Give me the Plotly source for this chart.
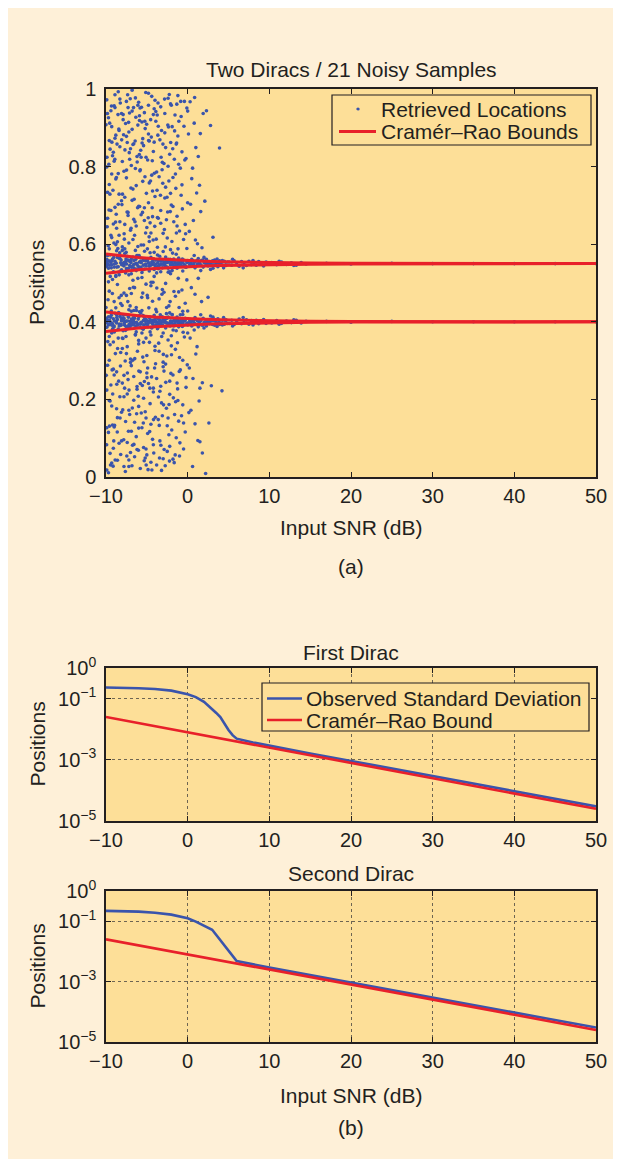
import plotly.graph_objects as go

# ---------------- DATA ----------------
snr_ticks = [-10, 0, 10, 20, 30, 40, 50]
snr_tick_text = ["\u221210", "0", "10", "20", "30", "40", "50"]
pos_ticks = [0, 0.2, 0.4, 0.6, 0.8, 1]
pos_tick_text = ["0", "0.2", "0.4", "0.6", "0.8", "1"]
log_ticks = [1e-5, 1e-3, 1e-1, 1]
log_tick_text = ["10<sup>\u22125</sup>", "10<sup>\u22123</sup>", "10<sup>\u22121</sup>", "10<sup>0</sup>"]

loc_first = 0.55
loc_second = 0.40

# Cramer-Rao bound (std)
crb_snr = [-10, -8, -6, -4, -2, 0, 2, 4, 6, 8, 10, 15, 20, 30, 40, 50]
crb_std = [0.025, 0.0199, 0.0158, 0.0125, 0.0099, 0.0079, 0.0063, 0.005, 0.004,
           0.0031, 0.0025, 0.0014, 0.0008, 0.00025, 0.00008, 0.000025]

# Observed std, first Dirac
std_snr_1 = [-10, -8, -6, -4, -2, 0, 1, 2, 2.5, 3, 3.5, 4, 4.5, 5, 5.5, 6, 8, 10, 15, 20, 30, 40, 50]
std_1 = [0.23, 0.226, 0.218, 0.205, 0.182, 0.138, 0.112, 0.078, 0.06, 0.045, 0.034, 0.025,
         0.015, 0.0094, 0.0064, 0.0049, 0.0037, 0.0029, 0.0016, 0.00092, 0.00029, 0.000092, 0.00003]
# Observed std, second Dirac
std_snr_2 = [-10, -8, -6, -4, -2, 0, 1, 3, 6, 10, 20, 30, 40, 50]
std_2 = [0.22, 0.216, 0.207, 0.19, 0.165, 0.125, 0.097, 0.052, 0.0048, 0.0029, 0.00092,
         0.00029, 0.000092, 0.00003]

# Retrieved locations: outliers spread over [0, 1]
cloud_pts = [
(-9.9,0.972),(-9.7,0.115),(-9.4,0.623),(-9.1,0.348),(-8.8,0.881),(-8.3,0.207),(-9.6,0.754),(-8.6,0.043),(-9.2,0.509),(-8.1,0.937),
(-9.8,0.288),(-9.0,0.814),(-8.4,0.462),(-9.5,0.061),(-8.9,0.695),(-8.2,0.321),(-9.3,0.903),(-8.7,0.176),(-10.0,0.437),(-9.1,0.652),
(-8.5,0.993),(-9.7,0.392),(-8.0,0.584),(-9.4,0.237),(-8.8,0.768),(-9.9,0.018),(-8.3,0.851),(-9.2,0.134),(-8.6,0.606),(-9.6,0.479),
(-8.9,0.952),(-9.0,0.263),(-8.1,0.712),(-9.5,0.845),(-8.4,0.087),(-9.8,0.667),(-8.7,0.418),(-9.3,0.183),(-8.2,0.531),(-9.7,0.926),
(-9.1,0.074),(-8.5,0.358),(-9.9,0.799),(-8.0,0.242),(-9.4,0.687),(-8.8,0.519),(-9.6,0.301),(-8.3,0.974),(-9.2,0.828),(-8.6,0.153),
(-9.0,0.452),(-9.8,0.571),(-8.4,0.729),(-9.3,0.036),(-8.9,0.873),(-8.1,0.409),(-9.5,0.196),(-8.7,0.641),(-10.0,0.908),(-9.1,0.278),
(-8.2,0.058),(-9.7,0.503),(-8.5,0.782),(-9.4,0.944),(-8.0,0.331),(-9.9,0.224),(-8.8,0.599),(-9.2,0.381),(-8.3,0.658),(-9.6,0.867),
(-8.6,0.496),(-9.0,0.129),(-8.9,0.985),(-9.5,0.341),(-8.4,0.893),(-9.8,0.734),(-8.1,0.167),(-9.3,0.617),(-8.7,0.271),(-9.1,0.837),
(-8.2,0.447),(-9.7,0.011),(-8.5,0.703),(-9.4,0.556),(-8.0,0.813),
(-7.9,0.921),(-7.6,0.143),(-7.3,0.682),(-7.0,0.304),(-6.7,0.857),(-6.2,0.226),(-7.5,0.771),(-6.5,0.052),(-7.1,0.486),(-6.1,0.958),
(-7.8,0.262),(-6.9,0.803),(-6.3,0.437),(-7.4,0.089),(-6.8,0.713),(-6.0,0.352),(-7.2,0.889),(-6.6,0.198),(-7.9,0.417),(-7.0,0.636),
(-6.4,0.977),(-7.6,0.378),(-6.1,0.594),(-7.3,0.251),(-6.7,0.742),(-7.8,0.027),(-6.2,0.826),(-7.1,0.161),(-6.5,0.623),(-7.5,0.468),
(-6.8,0.943),(-6.9,0.287),(-6.0,0.698),(-7.4,0.862),(-6.3,0.104),(-7.7,0.651),(-6.6,0.429),(-7.2,0.172),(-6.1,0.512),(-7.6,0.911),
(-7.0,0.063),(-6.4,0.367),(-7.8,0.788),(-6.2,0.233),(-7.3,0.674),(-6.7,0.507),(-7.5,0.318),(-6.0,0.966),(-7.1,0.819),(-6.5,0.141),
(-6.9,0.473),(-7.7,0.588),(-6.3,0.751),(-7.2,0.044),(-6.8,0.896),(-6.1,0.392),(-7.4,0.214),(-6.6,0.664),(-7.9,0.934),(-7.0,0.295),
(-6.2,0.071),(-7.6,0.526),(-6.4,0.795),(-7.3,0.952),(-6.0,0.343),(-7.8,0.207),(-6.7,0.612),(-7.1,0.389),(-6.3,0.647),(-7.5,0.878),
(-6.5,0.488),(-6.9,0.118),(-6.8,0.997),(-7.4,0.336),(-6.1,0.907),(-7.7,0.721),(-6.0,0.182),(-7.2,0.603),(-6.6,0.259),(-7.0,0.846),
(-5.9,0.931),(-5.6,0.127),(-5.3,0.694),(-5.0,0.313),(-4.7,0.866),(-4.2,0.219),(-5.5,0.762),(-4.5,0.038),(-5.1,0.497),(-4.1,0.949),
(-5.8,0.271),(-4.9,0.817),(-4.3,0.453),(-5.4,0.076),(-4.8,0.707),(-4.0,0.337),(-5.2,0.898),(-4.6,0.189),(-5.9,0.426),(-5.0,0.643),
(-4.4,0.981),(-5.6,0.371),(-4.1,0.579),(-5.3,0.246),(-4.7,0.758),(-5.8,0.022),(-4.2,0.839),(-5.1,0.152),(-4.5,0.629),(-5.5,0.474),
(-4.8,0.958),(-4.9,0.281),(-4.0,0.723),(-5.4,0.854),(-4.3,0.097),(-5.7,0.676),(-4.6,0.412),(-5.2,0.168),(-4.1,0.517),(-5.6,0.915),
(-5.0,0.057),(-4.4,0.384),(-5.8,0.792),(-4.2,0.229),(-5.3,0.661),(-4.7,0.531),(-5.5,0.309),(-4.0,0.971),(-5.1,0.824),(-4.5,0.136),
(-4.9,0.462),(-5.7,0.598),(-4.3,0.737),(-5.2,0.049),(-4.8,0.884),(-4.1,0.403),(-5.4,0.203),(-4.6,0.655),(-5.9,0.919),(-5.0,0.268),
(-4.2,0.083),(-5.6,0.514),(-4.4,0.778),(-5.3,0.939),(-4.0,0.326),(-5.8,0.241),(-4.7,0.607),(-5.1,0.358),(-4.3,0.671),(-5.5,0.872),
(-4.5,0.493),(-4.9,0.112),(-4.8,0.989),(-5.4,0.347),(-4.1,0.863),
(-3.9,0.917),(-3.6,0.148),(-3.3,0.687),(-3.0,0.296),(-2.7,0.849),(-2.2,0.213),(-3.5,0.774),(-2.5,0.066),(-3.1,0.483),(-2.1,0.962),
(-3.8,0.254),(-2.9,0.808),(-2.3,0.441),(-3.4,0.093),(-2.8,0.719),(-2.0,0.364),(-3.2,0.893),(-2.6,0.177),(-3.9,0.432),(-3.0,0.628),
(-2.4,0.976),(-3.6,0.386),(-2.1,0.586),(-3.3,0.234),(-2.7,0.747),(-3.8,0.031),(-2.2,0.832),(-3.1,0.158),(-2.5,0.616),(-3.5,0.459),
(-2.8,0.937),(-2.9,0.273),(-2.0,0.701),(-3.4,0.869),(-2.3,0.109),(-3.7,0.669),(-2.6,0.421),(-3.2,0.191),(-2.1,0.524),(-3.6,0.904),
(-3.0,0.047),(-2.4,0.353),(-3.8,0.786),(-2.2,0.247),(-3.3,0.654),(-2.7,0.499),(-3.5,0.324),(-2.0,0.958),(-3.1,0.811),(-2.5,0.132),
(-2.9,0.476),(-3.7,0.592),(-2.3,0.763),(-3.2,0.017),(-2.8,0.887),(-2.1,0.397),(-3.4,0.221),(-2.6,0.663),(-3.9,0.942),(-3.0,0.284),
(-2.2,0.079),(-3.6,0.537),(-2.4,0.801),(-3.3,0.954),(-2.0,0.338),
(-1.9,0.903),(-1.6,0.161),(-1.3,0.672),(-1.0,0.308),(-0.7,0.838),(-0.2,0.231),(-1.5,0.781),(-0.5,0.072),(-1.1,0.477),(-0.1,0.951),
(-1.8,0.263),(-0.9,0.796),(-0.3,0.448),(-1.4,0.101),(-0.8,0.726),(0.0,0.371),(-1.2,0.879),(-0.6,0.186),(-1.9,0.419),(-1.0,0.634),
(-0.4,0.968),(-1.6,0.394),(-0.1,0.589),(-1.3,0.242),(-0.7,0.753),(-1.8,0.046),(-0.2,0.821),(-1.1,0.144),(-0.5,0.612),(-1.5,0.466),
(-0.8,0.929),(-0.9,0.276),(0.0,0.707),(-1.4,0.858),(-0.3,0.116),(-1.7,0.658),(-0.6,0.427),(-1.2,0.197),(-0.1,0.508),(-1.6,0.892),
(-1.0,0.054),(-0.4,0.361),(-1.8,0.772),(-0.2,0.256),(-1.3,0.647),(-0.7,0.482),(-1.5,0.329),(0.0,0.943),(-1.1,0.806),(-0.5,0.139),
(0.1,0.884),(0.4,0.172),(0.7,0.661),(1.0,0.317),(1.3,0.826),(1.8,0.243),(0.5,0.769),(1.5,0.091),(0.9,0.471),(1.9,0.937),
(0.2,0.281),(1.1,0.732),(1.7,0.452),(0.6,0.027),(1.2,0.601),(0.3,0.358),(0.8,0.912),(1.4,0.196),(0.0,0.428),(1.6,0.684),
(0.3,0.967),(0.9,0.137),(1.3,0.512),(0.6,0.796),(1.8,0.062),(0.2,0.633),(1.0,0.849),(1.5,0.229),
(2.3,0.944),(3.9,0.848),(4.2,0.222),(2.9,0.235),(2.6,0.139),(2.1,0.711),(3.1,0.618),(2.2,0.009),(2.5,0.463),(2.8,0.906),
(-9.85,0.645),(-9.55,0.912),(-9.25,0.276),(-8.95,0.133),(-8.65,0.858),(-8.35,0.394),(-8.05,0.702),(-9.75,0.457),(-9.45,0.031),(-9.15,0.739),
(-8.85,0.318),(-8.55,0.589),(-8.25,0.964),(-7.95,0.173),(-9.65,0.806),(-9.35,0.428),(-9.05,0.093),(-8.75,0.677),(-8.45,0.247),(-8.15,0.531),
(-7.85,0.882),(-7.55,0.362),(-7.25,0.118),(-6.95,0.745),(-6.65,0.489),(-6.35,0.927),(-6.05,0.208),(-7.75,0.613),(-7.45,0.054),(-7.15,0.836),
(-6.85,0.392),(-6.55,0.716),(-6.25,0.163),(-5.95,0.571),(-7.65,0.299),(-7.35,0.985),(-7.05,0.441),(-6.75,0.082),(-6.45,0.658),(-6.15,0.324),
(-5.85,0.789),(-5.55,0.236),(-5.25,0.917),(-4.95,0.468),(-4.65,0.117),(-4.35,0.694),(-4.05,0.281),(-5.75,0.842),(-5.45,0.381),(-5.15,0.629),
(-4.85,0.019),(-4.55,0.763),(-4.25,0.502),(-3.95,0.154),(-5.65,0.953),(-5.35,0.297),(-5.05,0.731),(-4.75,0.436),(-4.45,0.876),(-4.15,0.062),
(-3.85,0.613),(-3.55,0.345),(-3.25,0.824),(-2.95,0.186),(-2.65,0.557),(-2.35,0.902),(-2.05,0.267),(-3.75,0.739),(-3.45,0.049),(-3.15,0.471),
(-2.85,0.638),(-2.55,0.312),(-2.25,0.986),(-1.95,0.121),(-3.65,0.881),(-3.35,0.418),(-3.05,0.757),(-2.75,0.029),(-2.45,0.683),(-2.15,0.452),
(-1.85,0.577),(-1.55,0.933),(-1.25,0.346),(-0.95,0.088),(-0.65,0.691),(-0.35,0.817),(-0.05,0.289),(-1.75,0.204),(-1.45,0.744),(-1.15,0.512),
(-0.85,0.968),(-0.55,0.373),(-0.25,0.627),(-1.65,0.037),(-1.35,0.861),(-1.05,0.437),(-0.75,0.158),(-0.45,0.904),(-0.15,0.541),(0.35,0.703),
(0.65,0.254),(0.95,0.611),(1.25,0.094),(1.55,0.885),(0.15,0.166),(0.45,0.488),(0.85,0.978),(1.15,0.336),(1.45,0.752),(1.75,0.591),
(-9.95,0.552),(-9.6,0.197),(-9.0,0.957),(-8.4,0.623),(-7.8,0.474),(-7.2,0.027),(-6.6,0.859),(-6.0,0.126),(-5.4,0.598),(-4.8,0.241),
(-4.2,0.934),(-3.6,0.667),(-3.0,0.407),(-2.4,0.152),(-1.8,0.697),(-1.2,0.983),(-0.6,0.301),(-9.3,0.781),(-8.1,0.093),(-6.9,0.562),
(-5.7,0.824),(-4.5,0.366),(-3.3,0.529),(-2.1,0.731),(-0.9,0.418),(-9.9,0.127),(-7.5,0.968),(-5.1,0.072),(-2.7,0.291),(-0.3,0.651),
(-9.92,0.083),(-9.78,0.349),(-9.63,0.688),(-9.48,0.517),(-9.33,0.956),(-9.18,0.214),(-9.03,0.603),(-8.88,0.044),(-8.73,0.772),(-8.58,0.331),
(-8.43,0.897),(-8.28,0.152),(-8.13,0.468),(-7.98,0.729),(-7.83,0.096),(-7.68,0.843),(-7.53,0.579),(-7.38,0.268),(-7.23,0.914),(-7.08,0.387),
(-6.93,0.641),(-6.78,0.178),(-6.63,0.952),(-6.48,0.305),(-6.33,0.536),(-6.18,0.812),(-6.03,0.069),(-5.88,0.697),(-5.73,0.423),(-5.58,0.861),
(-5.43,0.139),(-5.28,0.582),(-5.13,0.991),(-4.98,0.256),(-4.83,0.668),(-4.68,0.347),(-4.53,0.921),(-4.38,0.018),(-4.23,0.611),(-4.08,0.783),
(-3.93,0.292),(-3.78,0.487),(-3.63,0.964),(-3.48,0.133),(-3.33,0.726),(-3.18,0.362),(-3.03,0.858),(-2.88,0.071),(-2.73,0.593),(-2.58,0.437),
(-2.43,0.907),(-2.28,0.187),(-2.13,0.684),(-1.98,0.315),(-1.83,0.846),(-1.68,0.478),(-1.53,0.057),(-1.38,0.629),(-1.23,0.227),(-1.08,0.917),
(-9.88,0.824),(-9.73,0.596),(-9.58,0.131),(-9.43,0.412),(-9.28,0.863),(-9.13,0.028),(-8.98,0.374),(-8.83,0.657),(-8.68,0.239),(-8.53,0.934),
(-8.38,0.521),(-8.23,0.286),(-8.08,0.869),(-7.93,0.357),(-7.78,0.627),(-7.63,0.014),(-7.48,0.791),(-7.33,0.452),(-7.18,0.224),(-7.03,0.975),
(-6.88,0.541),(-6.73,0.301),(-6.58,0.084),(-6.43,0.866),(-6.28,0.429),(-6.13,0.694),(-5.98,0.273),(-5.83,0.951),(-5.68,0.165),(-5.53,0.682),
(-5.38,0.404),(-5.23,0.774),(-5.08,0.031),(-4.93,0.588),(-4.78,0.867),(-4.63,0.229),(-4.48,0.502),(-4.33,0.815),(-4.18,0.148),(-4.03,0.646),
(-3.88,0.399),(-3.73,0.933),(-3.58,0.206),(-3.43,0.569),(-3.28,0.082),(-3.13,0.792),(-2.98,0.316),(-2.83,0.974),(-2.68,0.244),(-2.53,0.721),
(-2.38,0.528),(-2.23,0.041),(-2.08,0.862),(-1.93,0.607),(-1.78,0.379),(-1.63,0.819),(-1.48,0.194),(-1.33,0.961),(-1.18,0.588),(-1.03,0.272),
(-9.97,0.262),(-9.82,0.937),(-9.52,0.729),(-9.22,0.473),(-8.92,0.819),(-8.62,0.116),(-8.32,0.578),(-8.02,0.442),(-7.72,0.229),(-7.42,0.683),
(-7.12,0.938),(-6.82,0.029),(-6.52,0.398),(-6.22,0.571),(-5.92,0.831),(-5.62,0.463),(-5.32,0.042),(-5.02,0.909),(-4.72,0.619),(-4.42,0.258),
]

# Retrieved locations clustered around the first Dirac (0.55)
band_first_pts = [
(-9.9,0.561),(-9.7,0.538),(-9.5,0.572),(-9.3,0.547),(-9.1,0.529),(-8.9,0.556),(-8.7,0.583),(-8.5,0.542),(-8.3,0.563),(-8.1,0.534),
(-7.9,0.551),(-7.7,0.576),(-7.5,0.537),(-7.3,0.559),(-7.1,0.545),(-6.9,0.524),(-6.7,0.567),(-6.5,0.549),(-6.3,0.532),(-6.1,0.571),
(-5.9,0.554),(-5.7,0.541),(-5.5,0.563),(-5.3,0.536),(-5.1,0.558),(-9.8,0.548),(-9.4,0.553),(-9.0,0.541),(-8.6,0.566),(-8.2,0.552),
(-7.8,0.544),(-7.4,0.569),(-7.0,0.556),(-6.6,0.539),(-6.2,0.548),(-5.8,0.565),(-5.4,0.546),(-9.6,0.588),(-8.8,0.517),(-8.0,0.593),
(-7.2,0.521),(-6.4,0.584),(-5.6,0.527),(-9.2,0.562),(-7.6,0.555),
(-4.9,0.557),(-4.7,0.543),(-4.5,0.566),(-4.3,0.548),(-4.1,0.535),(-3.9,0.559),(-3.7,0.572),(-3.5,0.546),(-3.3,0.561),(-3.1,0.539),
(-2.9,0.553),(-2.7,0.567),(-2.5,0.541),(-2.3,0.556),(-2.1,0.547),(-1.9,0.532),(-1.7,0.562),(-1.5,0.551),(-1.3,0.538),(-1.1,0.564),
(-0.9,0.553),(-0.7,0.544),(-0.5,0.559),(-0.3,0.541),(-0.1,0.555),(-4.8,0.551),(-4.4,0.554),(-4.0,0.545),(-3.6,0.558),(-3.2,0.549),
(-2.8,0.546),(-2.4,0.561),(-2.0,0.553),(-1.6,0.543),(-1.2,0.549),(-0.8,0.558),(-0.4,0.547),(-4.6,0.578),(-3.8,0.526),(-3.0,0.581),
(-2.2,0.529),(-1.4,0.574),(-0.6,0.531),(-4.2,0.552),(-2.6,0.555),
(0.1,0.556),(0.3,0.544),(0.5,0.561),(0.7,0.547),(0.9,0.539),(1.1,0.557),(1.3,0.563),(1.5,0.546),(1.7,0.558),(1.9,0.541),
(2.1,0.553),(2.3,0.561),(2.5,0.544),(2.7,0.555),(2.9,0.548),(3.1,0.538),(3.3,0.559),(3.5,0.551),(3.7,0.542),(3.9,0.557),
(4.1,0.553),(4.3,0.546),(4.5,0.556),(4.7,0.545),(4.9,0.554),(0.4,0.552),(1.2,0.548),(2.0,0.566),(2.8,0.535),(3.6,0.562),
(4.4,0.539),(0.8,0.571),(1.6,0.532),(2.4,0.551),(3.2,0.547),
(5.1,0.554),(5.4,0.546),(5.7,0.557),(6.0,0.548),(6.3,0.543),(6.6,0.555),(6.9,0.552),(7.2,0.545),(7.5,0.556),(7.8,0.547),
(8.1,0.553),(8.4,0.546),(8.7,0.555),(9.0,0.548),(9.3,0.544),(9.6,0.554),(9.9,0.551),(5.5,0.561),(6.8,0.539),(8.0,0.558),
(10.3,0.553),(10.9,0.547),(11.5,0.554),(12.1,0.548),(12.7,0.552),(13.3,0.546),(13.9,0.553),(14.5,0.549),(11.2,0.556),(13.0,0.545),
(17,0.551),(20,0.549),(25,0.551),(30,0.550),(35,0.550),(40,0.550),(45,0.550),(50,0.550),
(-9.95,0.543),(-9.65,0.557),(-9.35,0.539),(-9.05,0.566),(-8.75,0.551),(-8.45,0.528),(-8.15,0.559),(-7.85,0.546),(-7.55,0.562),(-7.25,0.538),
(-6.95,0.553),(-6.65,0.547),(-6.35,0.561),(-6.05,0.543),(-5.75,0.556),(-5.45,0.534),(-5.15,0.549),(-4.85,0.563),(-4.55,0.546),(-4.25,0.557),
(-3.95,0.541),(-3.65,0.552),(-3.35,0.547),(-3.05,0.559),(-2.75,0.544),(-2.45,0.553),(-2.15,0.561),(-1.85,0.548),(-1.55,0.556),(-1.25,0.543),
(-0.95,0.551),(-0.65,0.562),(-0.35,0.546),(-0.05,0.553),(0.25,0.548),(0.65,0.557),(1.05,0.544),(1.45,0.552),(1.85,0.559),(2.25,0.546),
(2.65,0.553),(3.05,0.557),(3.45,0.545),(3.85,0.551),(4.25,0.558),(4.65,0.547),
(-9.88,0.553),(-9.58,0.546),(-9.28,0.558),(-8.98,0.549),(-8.68,0.541),(-8.38,0.564),(-8.08,0.547),(-7.78,0.553),(-7.48,0.549),(-7.18,0.557),
(-6.88,0.542),(-6.58,0.558),(-6.28,0.551),(-5.98,0.537),(-5.68,0.552),(-5.38,0.558),(-5.08,0.544),(-4.78,0.552),(-4.48,0.547),(-4.18,0.562),
(-3.88,0.549),(-3.58,0.543),(-3.28,0.556),(-2.98,0.548),(-2.68,0.552),(-2.38,0.538),(-2.08,0.549),(-1.78,0.556),(-1.48,0.545),(-1.18,0.553),
(-0.88,0.547),(-0.58,0.552),(-0.28,0.544),(0.02,0.558),(0.42,0.549),(0.82,0.553),(1.22,0.557),(1.62,0.547),(2.02,0.552),(2.62,0.549),
]

# Retrieved locations clustered around the second Dirac (0.40)
band_second_pts = [
(-9.9,0.386),(-9.7,0.413),(-9.5,0.394),(-9.3,0.371),(-9.1,0.408),(-8.9,0.422),(-8.7,0.397),(-8.5,0.381),(-8.3,0.414),(-8.1,0.403),
(-7.9,0.377),(-7.7,0.391),(-7.5,0.418),(-7.3,0.402),(-7.1,0.385),(-6.9,0.427),(-6.7,0.396),(-6.5,0.409),(-6.3,0.374),(-6.1,0.392),
(-5.9,0.416),(-5.7,0.399),(-5.5,0.383),(-5.3,0.411),(-5.1,0.394),(-9.8,0.404),(-9.4,0.398),(-9.0,0.389),(-8.6,0.406),(-8.2,0.393),
(-7.8,0.409),(-7.4,0.388),(-7.0,0.401),(-6.6,0.412),(-6.2,0.397),(-5.8,0.385),(-5.4,0.403),(-9.6,0.362),(-8.8,0.436),(-8.0,0.358),
(-7.2,0.431),(-6.4,0.366),(-5.6,0.429),(-9.2,0.395),(-7.6,0.401),
(-4.9,0.393),(-4.7,0.411),(-4.5,0.386),(-4.3,0.404),(-4.1,0.417),(-3.9,0.391),(-3.7,0.382),(-3.5,0.407),(-3.3,0.396),(-3.1,0.413),
(-2.9,0.399),(-2.7,0.384),(-2.5,0.409),(-2.3,0.395),(-2.1,0.402),(-1.9,0.418),(-1.7,0.389),(-1.5,0.401),(-1.3,0.412),(-1.1,0.387),
(-0.9,0.398),(-0.7,0.406),(-0.5,0.392),(-0.3,0.409),(-0.1,0.396),(-4.8,0.402),(-4.4,0.397),(-4.0,0.405),(-3.6,0.394),(-3.2,0.401),
(-2.8,0.406),(-2.4,0.391),(-2.0,0.398),(-1.6,0.407),(-1.2,0.401),(-0.8,0.393),(-0.4,0.403),(-4.6,0.374),(-3.8,0.426),(-3.0,0.371),
(-2.2,0.423),(-1.4,0.377),(-0.6,0.419),(-4.2,0.399),(-2.6,0.397),
(0.1,0.394),(0.3,0.406),(0.5,0.389),(0.7,0.403),(0.9,0.411),(1.1,0.393),(1.3,0.387),(1.5,0.404),(1.7,0.392),(1.9,0.409),
(2.1,0.397),(2.3,0.389),(2.5,0.406),(2.7,0.395),(2.9,0.402),(3.1,0.412),(3.3,0.391),(3.5,0.399),(3.7,0.408),(3.9,0.393),
(4.1,0.397),(4.3,0.404),(4.5,0.394),(4.7,0.405),(4.9,0.396),(0.4,0.398),(1.2,0.402),(2.0,0.384),(2.8,0.415),(3.6,0.388),
(4.4,0.411),(0.8,0.379),(1.6,0.418),(2.4,0.399),(3.2,0.403),
(5.1,0.396),(5.4,0.404),(5.7,0.393),(6.0,0.402),(6.3,0.407),(6.6,0.395),(6.9,0.398),(7.2,0.405),(7.5,0.394),(7.8,0.403),
(8.1,0.397),(8.4,0.404),(8.7,0.395),(9.0,0.402),(9.3,0.406),(9.6,0.396),(9.9,0.399),(5.5,0.389),(6.8,0.411),(8.0,0.392),
(10.3,0.397),(10.9,0.403),(11.5,0.396),(12.1,0.402),(12.7,0.398),(13.3,0.404),(13.9,0.397),(14.5,0.401),(11.2,0.394),(13.0,0.405),
(17,0.401),(20,0.399),(25,0.401),(30,0.400),(35,0.400),(40,0.400),(45,0.400),(50,0.400),
(-9.95,0.409),(-9.65,0.393),(-9.35,0.417),(-9.05,0.386),(-8.75,0.401),(-8.45,0.424),(-8.15,0.391),(-7.85,0.404),(-7.55,0.388),(-7.25,0.412),
(-6.95,0.397),(-6.65,0.403),(-6.35,0.389),(-6.05,0.407),(-5.75,0.394),(-5.45,0.416),(-5.15,0.401),(-4.85,0.387),(-4.55,0.404),(-4.25,0.393),
(-3.95,0.409),(-3.65,0.398),(-3.35,0.403),(-3.05,0.391),(-2.75,0.406),(-2.45,0.397),(-2.15,0.389),(-1.85,0.402),(-1.55,0.394),(-1.25,0.407),
(-0.95,0.399),(-0.65,0.388),(-0.35,0.404),(-0.05,0.397),(0.25,0.402),(0.65,0.393),(1.05,0.406),(1.45,0.398),(1.85,0.391),(2.25,0.404),
(2.65,0.397),(3.05,0.393),(3.45,0.405),(3.85,0.399),(4.25,0.392),(4.65,0.403),
(-9.88,0.398),(-9.58,0.404),(-9.28,0.391),(-8.98,0.402),(-8.68,0.411),(-8.38,0.389),(-8.08,0.403),(-7.78,0.396),(-7.48,0.402),(-7.18,0.393),
(-6.88,0.407),(-6.58,0.392),(-6.28,0.399),(-5.98,0.413),(-5.68,0.398),(-5.38,0.392),(-5.08,0.406),(-4.78,0.398),(-4.48,0.403),(-4.18,0.388),
(-3.88,0.401),(-3.58,0.407),(-3.28,0.394),(-2.98,0.402),(-2.68,0.398),(-2.38,0.412),(-2.08,0.401),(-1.78,0.394),(-1.48,0.405),(-1.18,0.397),
(-0.88,0.403),(-0.58,0.398),(-0.28,0.406),(0.02,0.392),(0.42,0.401),(0.82,0.397),(1.22,0.393),(1.62,0.403),(2.02,0.398),(2.62,0.401),
]

legend_top_labels = ["Retrieved Locations", "Cram\u00e9r\u2013Rao Bounds"]
legend_mid_labels = ["Observed Standard Deviation", "Cram\u00e9r\u2013Rao Bound"]

# ---------------- STYLE / GEOMETRY ----------------
OFF = 8                    # page body margin of the html page
W, H = 621, 1159 - OFF
FONT = "Liberation Sans, Arial, Helvetica, sans-serif"
INK = "#231F20"
CREAM = "#FEF0D8"
PLOTBG = "#FDDF98"
BLUE = "#3A54AC"
RED = "#E8202A"
TXT = 21
TICK = 20


def fx(px):   # reference screen x -> paper x
    return (px - OFF) / W


def fy(px):   # reference screen y -> paper y
    return 1 - (px - OFF) / H


x_dom = [fx(106), fx(596)]

all_pts = cloud_pts + band_first_pts + band_second_pts
ret_x = [p[0] for p in all_pts]
ret_y = [p[1] for p in all_pts]

fig = go.Figure()

fig.add_trace(go.Scatter(
    x=ret_x, y=ret_y, mode="markers", name=legend_top_labels[0], showlegend=False,
    marker=dict(size=3.6, color=BLUE, line=dict(width=0)),
    xaxis="x", yaxis="y"))

bounds = [
    [loc_first + c for c in crb_std],
    [loc_first - c for c in crb_std],
    [loc_second + c for c in crb_std],
    [loc_second - c for c in crb_std],
]
for b in bounds:
    fig.add_trace(go.Scatter(
        x=crb_snr, y=b, mode="lines", name=legend_top_labels[1], showlegend=False,
        line=dict(color=RED, width=3), xaxis="x", yaxis="y"))

for xa_, ya_, sx, sy in [("x2", "y2", std_snr_1, std_1), ("x3", "y3", std_snr_2, std_2)]:
    fig.add_trace(go.Scatter(
        x=sx, y=sy, mode="lines", name=legend_mid_labels[0], showlegend=False,
        line=dict(color=BLUE, width=2.6), xaxis=xa_, yaxis=ya_))
    fig.add_trace(go.Scatter(
        x=crb_snr, y=crb_std, mode="lines", name=legend_mid_labels[1], showlegend=False,
        line=dict(color=RED, width=2.6), xaxis=xa_, yaxis=ya_))

common_axis = dict(
    showline=True, linecolor=INK, linewidth=1.5, mirror="ticks",
    ticks="inside", ticklen=5, tickwidth=1, tickcolor=INK,
    tickfont=dict(family=FONT, size=TICK, color=INK), zeroline=False,
)
grid = dict(showgrid=True, gridcolor="#6E6552", gridwidth=1, griddash="dot")
xa = dict(range=[-10, 50], tickvals=snr_ticks, ticktext=snr_tick_text, domain=x_dom, **common_axis)

fig.update_layout(
    width=W, height=H, autosize=False,
    margin=dict(l=0, r=0, t=0, b=0, pad=0, autoexpand=False),
    paper_bgcolor=CREAM, plot_bgcolor=PLOTBG,
    font=dict(family=FONT, size=TXT, color=INK),
    showlegend=False,
    xaxis=dict(anchor="y", showgrid=False, **xa),
    yaxis=dict(anchor="x", domain=[fy(477), fy(89)], range=[0, 1], tickvals=pos_ticks,
               ticktext=pos_tick_text, showgrid=False, ticklabelstandoff=4, **common_axis),
    xaxis2=dict(anchor="y2", **grid, **xa),
    yaxis2=dict(anchor="x2", type="log", domain=[fy(821), fy(668)], range=[-5, 0],
                tickvals=log_ticks, ticktext=log_tick_text, ticklabelstandoff=4, **grid, **common_axis),
    xaxis3=dict(anchor="y3", **grid, **xa),
    yaxis3=dict(anchor="x3", type="log", domain=[fy(1042), fy(891)], range=[-5, 0],
                tickvals=log_ticks, ticktext=log_tick_text, ticklabelstandoff=4, **grid, **common_axis),
)


# ---- legends (drawn as boxes, samples and text) ----
def legend_box(x0, x1, y0, y1):
    fig.add_shape(type="rect", xref="paper", yref="paper", layer="above",
                  x0=fx(x0), x1=fx(x1), y0=fy(y1), y1=fy(y0),
                  fillcolor=PLOTBG, line=dict(color=INK, width=1.2))


def legend_line(x0, x1, y, color, width):
    fig.add_shape(type="line", xref="paper", yref="paper", layer="above",
                  x0=fx(x0), x1=fx(x1), y0=fy(y), y1=fy(y),
                  line=dict(color=color, width=width))


def legend_text(t, x, y):
    fig.add_annotation(text=t, x=fx(x), y=fy(y), xref="paper", yref="paper",
                       xanchor="left", yanchor="middle", showarrow=False,
                       font=dict(family=FONT, size=TXT, color=INK))


legend_box(332, 591, 95, 145)
fig.add_shape(type="circle", xref="paper", yref="paper", layer="above",
              x0=fx(356.3), x1=fx(359.7), y0=fy(110.5), y1=fy(107.5),
              fillcolor=BLUE, line=dict(width=0))
legend_line(339, 376, 131.5, RED, 3)
legend_text(legend_top_labels[0], 379, 109.5)
legend_text(legend_top_labels[1], 379, 131.5)

legend_box(262, 589, 683, 731)
legend_line(267, 302, 698.5, BLUE, 2.6)
legend_line(267, 302, 720, RED, 2.6)
legend_text(legend_mid_labels[0], 304, 698.5)
legend_text(legend_mid_labels[1], 304, 720)

# ---- titles and axis titles ----
cx = fx(351)
texts = [
    ("Two Diracs / 21 Noisy Samples", cx, 69, 0),
    ("Input SNR (dB)", cx, 527, 0),
    ("(a)", cx, 566, 0),
    ("First Dirac", cx, 652, 0),
    ("Second Dirac", cx, 873, 0),
    ("Input SNR (dB)", cx, 1095, 0),
    ("(b)", cx, 1127, 0),
    ("Positions", fx(37), 283, -90),
    ("Positions", fx(37), 744.5, -90),
    ("Positions", fx(37), 966.5, -90),
]
for t, x, y, ang in texts:
    fig.add_annotation(text=t, x=x, y=fy(y), xref="paper", yref="paper",
                       xanchor="center", yanchor="middle", showarrow=False,
                       textangle=ang, font=dict(family=FONT, size=TXT, color=INK))

fig.write_html("out.html")
